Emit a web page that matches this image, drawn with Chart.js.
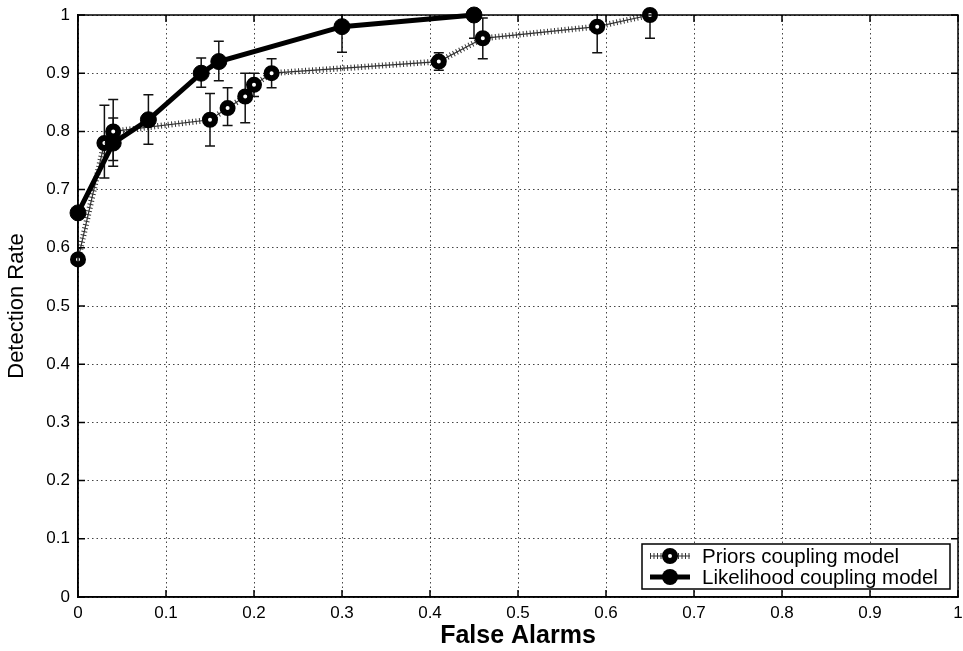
<!DOCTYPE html>
<html>
<head>
<meta charset="utf-8">
<title>Detection Rate vs False Alarms</title>
<script src="https://cdn.jsdelivr.net/npm/chart.js@4.4.1/dist/chart.umd.min.js"></script>
<style>
  html, body { margin: 0; padding: 0; background: #fff; }
  #wrap { width: 963px; height: 651px; }
</style>
</head>
<body>
<div id="wrap"><canvas id="roc" width="963" height="651"></canvas></div>
<script>
/* ==============================
   DATA
================================ */
const tickValues = [0, 0.1, 0.2, 0.3, 0.4, 0.5, 0.6, 0.7, 0.8, 0.9, 1];
const tickLabels = ["0", "0.1", "0.2", "0.3", "0.4", "0.5", "0.6", "0.7", "0.8", "0.9", "1"];

const priorsLabel = "Priors coupling model";
const priorsX  = [0, 0.03, 0.04, 0.15, 0.17, 0.19, 0.20, 0.22, 0.41, 0.46, 0.59, 0.65];
const priorsY  = [0.58, 0.78, 0.80, 0.82, 0.84, 0.86, 0.88, 0.90, 0.92, 0.96, 0.98, 1.00];
const priorsLo = [null, 0.72, 0.74, 0.775, 0.81, 0.815, 0.86, 0.875, 0.905, 0.925, 0.935, 0.96];
const priorsHi = [null, 0.845, 0.855, 0.865, 0.875, 0.90, 0.90, 0.925, 0.935, 0.995, 1.025, 1.04];

const likeLabel = "Likelihood coupling model";
const likeX  = [0, 0.04, 0.08, 0.14, 0.16, 0.30, 0.45];
const likeY  = [0.66, 0.78, 0.82, 0.90, 0.92, 0.98, 1.00];
const likeLo = [null, 0.75, 0.778, 0.876, 0.887, 0.936, 0.96];
const likeHi = [null, 0.823, 0.863, 0.926, 0.955, 1.025, 1.04];

const FONT = "'Liberation Sans', Arial, sans-serif";

function pts(xs, ys) {
    return xs.map((x, i) => ({ x: x, y: ys[i] }));
}

/* ==============================
   ERROR BARS + FRAME + LEGEND
================================ */
const errorBars = {
    id: "errorBars",
    beforeDatasetsDraw(chart) {
        const { ctx, chartArea: a, scales: { x, y } } = chart;
        ctx.save();
        ctx.beginPath();
        ctx.rect(a.left, a.top - 1, a.right - a.left, a.bottom - a.top + 2);
        ctx.clip();
        ctx.strokeStyle = "#111";
        ctx.lineWidth = 1.5;
        const draw = (xs, lo, hi) => {
            xs.forEach((v, i) => {
                if (lo[i] == null) return;
                const px = x.getPixelForValue(v);
                const p1 = y.getPixelForValue(lo[i]);
                const p2 = y.getPixelForValue(hi[i]);
                ctx.beginPath();
                ctx.moveTo(px, p1); ctx.lineTo(px, p2);
                ctx.moveTo(px - 5, p1); ctx.lineTo(px + 5, p1);
                ctx.moveTo(px - 5, p2); ctx.lineTo(px + 5, p2);
                ctx.stroke();
            });
        };
        draw(priorsX, priorsLo, priorsHi);
        draw(likeX, likeLo, likeHi);
        ctx.restore();
    }
};

const frame = {
    id: "frame",
    afterDraw(chart) {
        const { ctx, chartArea: a, scales: { x, y } } = chart;
        ctx.save();
        ctx.strokeStyle = "#000";
        ctx.lineWidth = 1.5;
        ctx.strokeRect(a.left, a.top, a.right - a.left, a.bottom - a.top);

        // inward tick marks, matlab style
        tickValues.forEach(v => {
            const px = x.getPixelForValue(v);
            const py = y.getPixelForValue(v);
            ctx.beginPath();
            ctx.moveTo(px, a.bottom); ctx.lineTo(px, a.bottom - 7);
            ctx.moveTo(px, a.top); ctx.lineTo(px, a.top + 7);
            ctx.moveTo(a.left, py); ctx.lineTo(a.left + 7, py);
            ctx.moveTo(a.right, py); ctx.lineTo(a.right - 7, py);
            ctx.stroke();
        });

        // legend box, lower right inside the axes
        const w = 308, h = 45;
        const bx = a.right - w - 8, by = a.bottom - h - 8;
        ctx.fillStyle = "#fff";
        ctx.fillRect(bx, by, w, h);
        ctx.strokeRect(bx, by, w, h);

        const rows = [
            { y: by + 12, label: priorsLabel, dotted: true },
            { y: by + 33, label: likeLabel, dotted: false }
        ];
        rows.forEach(r => {
            const x0 = bx + 8, x1 = bx + 48, mx = bx + 28;
            ctx.beginPath();
            ctx.moveTo(x0, r.y); ctx.lineTo(x1, r.y);
            if (r.dotted) {
                ctx.lineWidth = 1.2; ctx.strokeStyle = "#333"; ctx.stroke();
                ctx.setLineDash([1, 2.5]); ctx.lineWidth = 6; ctx.stroke();
                ctx.setLineDash([]);
                ctx.beginPath(); ctx.arc(mx, r.y, 5, 0, Math.PI * 2);
                ctx.fillStyle = "#fff"; ctx.fill();
                ctx.lineWidth = 6; ctx.strokeStyle = "#000"; ctx.stroke();
            } else {
                ctx.lineWidth = 5; ctx.strokeStyle = "#000"; ctx.stroke();
                ctx.beginPath(); ctx.arc(mx, r.y, 8, 0, Math.PI * 2);
                ctx.fillStyle = "#000"; ctx.fill();
            }
            ctx.fillStyle = "#000";
            ctx.font = "20.5px " + FONT;
            ctx.textAlign = "left";
            ctx.textBaseline = "middle";
            ctx.fillText(r.label, bx + 60, r.y + 1);
        });
        ctx.restore();
    }
};

/* ==============================
   CHART
================================ */
new Chart(document.getElementById("roc"), {
    type: "scatter",
    data: {
        datasets: [
            {
                label: likeLabel,
                data: pts(likeX, likeY),
                showLine: true,
                borderColor: "#000",
                borderWidth: 5,
                pointRadius: 8,
                pointBackgroundColor: "#000",
                pointBorderColor: "#000",
                pointBorderWidth: 1,
                clip: false,
                order: 1
            },
            {
                label: priorsLabel,
                data: pts(priorsX, priorsY),
                showLine: true,
                borderColor: "#333",
                borderWidth: 6,
                borderDash: [1, 2.5],
                pointRadius: 5,
                pointBackgroundColor: "#fff",
                pointBorderColor: "#000",
                pointBorderWidth: 6,
                clip: false,
                order: 2
            },
            {
                label: "priors core",
                data: pts(priorsX, priorsY),
                showLine: true,
                borderColor: "#333",
                borderWidth: 1.2,
                pointRadius: 0,
                clip: false,
                order: 3
            }
        ]
    },
    options: {
        responsive: false,
        animation: false,
        layout: {
            autoPadding: false,
            padding: { top: 15, right: 5, left: 0, bottom: 0 }
        },
        plugins: {
            legend: { display: false },
            tooltip: { enabled: false }
        },
        scales: {
            x: {
                type: "linear",
                min: 0,
                max: 1,
                afterBuildTicks: s => { s.ticks = tickValues.map(v => ({ value: v })); },
                afterFit: s => {
                    s.height = 54;
                    s.paddingLeft = 0;
                    s.paddingRight = 0;
                },
                ticks: {
                    padding: 6,
                    color: "#000",
                    font: { family: FONT, size: 17 },
                    callback: (v, i) => tickLabels[i]
                },
                grid: { color: "#444", lineWidth: 1, drawTicks: false },
                border: { display: true, color: "#000", width: 1.5, dash: [1.5, 3] },
                title: {
                    display: true,
                    text: "False Alarms",
                    color: "#000",
                    font: { family: FONT, size: 25, weight: "bold" },
                    padding: { top: 0, bottom: 0 }
                }
            },
            y: {
                type: "linear",
                min: 0,
                max: 1,
                afterBuildTicks: s => { s.ticks = tickValues.map(v => ({ value: v })); },
                afterFit: s => {
                    s.width = 78;
                    s.paddingTop = 0;
                    s.paddingBottom = 0;
                },
                ticks: {
                    padding: 8,
                    color: "#000",
                    font: { family: FONT, size: 17 },
                    callback: (v, i) => tickLabels[i]
                },
                grid: { color: "#444", lineWidth: 1, drawTicks: false },
                border: { display: true, color: "#000", width: 1.5, dash: [1.5, 3] },
                title: {
                    display: true,
                    text: "Detection Rate",
                    color: "#000",
                    font: { family: FONT, size: 22 },
                    padding: { top: 4, bottom: 0 }
                }
            }
        }
    },
    plugins: [errorBars, frame]
});
</script>
</body>
</html>
